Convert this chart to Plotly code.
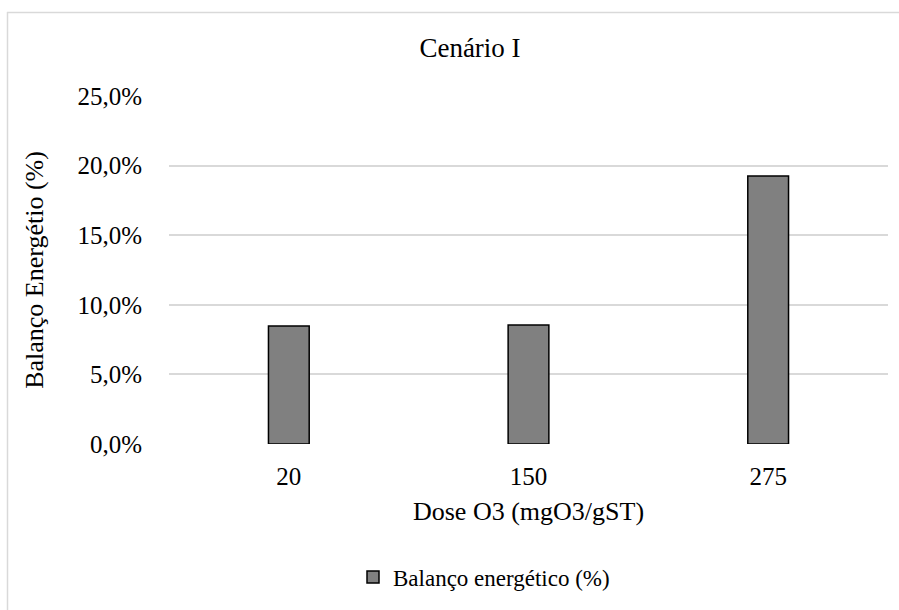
import plotly.graph_objects as go

categories = ["20", "150", "275"]
values = [0.0848, 0.0855, 0.1925]
y_ticks = [0, 0.05, 0.10, 0.15, 0.20, 0.25]

W, H = 899, 610
L, R, T, B = 169, 11, 96, 166
pw, ph = W - L - R, H - T - B

def px(x):
    return (x - L) / pw

def py(y):
    return (H - B - y) / ph

font = "Liberation Serif, Times New Roman, serif"

fig = go.Figure()
fig.add_trace(go.Bar(
    x=categories, y=values, name="Balanço energético (%)",
    width=0.17, marker=dict(color="#808080", line=dict(color="#000000", width=1.5)),
))

fig.update_layout(
    width=W, height=H,
    margin=dict(l=L, r=R, t=T, b=B),
    paper_bgcolor="white", plot_bgcolor="white",
    separators=", ",
    font=dict(family=font, size=25, color="#000000"),
    title=dict(text="Cenário I", x=470 / W, xref="container", xanchor="center",
               y=1 - 48 / H, yanchor="middle", font=dict(size=27, family=font)),
    showlegend=True,
    legend=dict(orientation="h", x=px(484), xanchor="center", y=py(577), yanchor="middle",
                font=dict(size=23, family=font), itemwidth=30),
    bargap=0.83,
)
fig.update_yaxes(range=[0, 0.25], tickvals=y_ticks, tickformat=".1%",
                 showgrid=True, gridcolor="#d9d9d9", gridwidth=1.5,
                 zeroline=False, showline=False,
                 ticks="outside", ticklen=21, tickcolor="rgba(0,0,0,0)",
                 title=dict(text="Balanço Energétio (%)", standoff=26, font=dict(size=26)))
fig.update_xaxes(showgrid=False, showline=False, zeroline=False,
                 ticks="outside", ticklen=10, tickcolor="rgba(0,0,0,0)",
                 title=dict(text="Dose O3 (mgO3/gST)", standoff=12, font=dict(size=26)))

fig.add_shape(type="line", xref="paper", yref="paper",
              x0=px(7), x1=px(899), y0=py(12.5), y1=py(12.5),
              line=dict(color="#d9d9d9", width=1.5))
fig.add_shape(type="line", xref="paper", yref="paper",
              x0=px(7.5), x1=px(7.5), y0=py(12), y1=py(615),
              line=dict(color="#d9d9d9", width=1.5))

fig.write_html("out.html")
